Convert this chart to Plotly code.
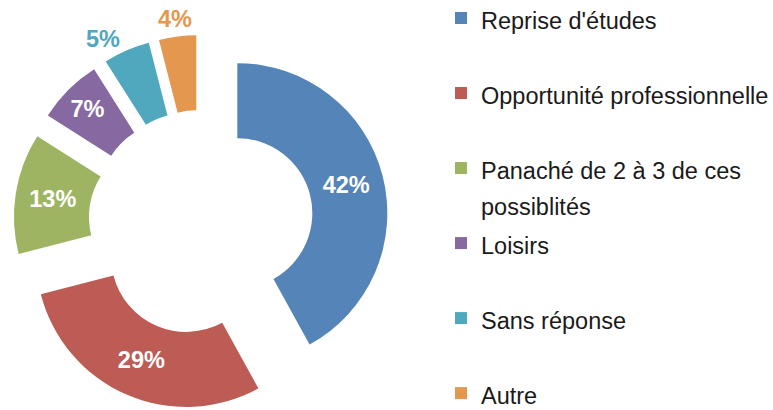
import math
import textwrap
import plotly.graph_objects as go

# Survey answers and their shares (percent)
categories = [
    "Reprise d'études",
    "Opportunité professionnelle",
    "Panaché de 2 à 3 de ces possiblités",
    "Loisirs",
    "Sans réponse",
    "Autre",
]
shares = [42, 29, 13, 7, 5, 4]
colors = ["#5585B8", "#BC5C54", "#9DB562", "#8569A0", "#4FA8BE", "#E3974F"]
# the last slice gets its label placed above its tip separately
label_positions = ["inside", "inside", "inside", "inside", "outside", "none"]

FONT = "Arial, Liberation Sans, sans-serif"
TEXT_PX = 23.5         # visible legend text size
LEGEND_LINE_PX = 27.7  # legend font size that sets the slot line height
VALUE_PX = 23.5        # percentage labels

W, H = 773, 410
cx, cy, half = 201, 222.5, 187.5   # donut centre and half-size of its box (px)
PULL = 0.25
HOLE = 0.5


def legend_entry(name, last):
    lines = textwrap.wrap(name, width=27)
    body = "<br>".join(f"<span style='font-size:{TEXT_PX}px'>{ln}</span>" for ln in lines)
    # single-line entries get a spacer line so every slot has the same height
    if len(lines) == 1 and not last:
        body += "<br> "
    return body


legend_labels = [legend_entry(c, i == len(categories) - 1) for i, c in enumerate(categories)]

fig = go.Figure(
    go.Pie(
        labels=legend_labels,
        values=shares,
        sort=False,
        direction="clockwise",
        rotation=0,
        hole=HOLE,
        pull=PULL,
        marker=dict(colors=colors, line=dict(width=0)),
        texttemplate="%{percent:.0%}",
        textposition=label_positions,
        insidetextorientation="horizontal",
        insidetextfont=dict(family=FONT, size=VALUE_PX, color="white", weight="bold"),
        outsidetextfont=dict(family=FONT, size=VALUE_PX, color=colors, weight="bold"),
        domain=dict(x=[(cx - half) / W, (cx + half) / W], y=[0, (2 * half) / H]),
        hoverinfo="skip",
        showlegend=True,
    )
)

# label of the last slice, centred on its bisector just beyond the pulled-out tip
total = sum(shares)
mid_angle = math.radians(360 * (total - shares[-1] / 2) / total)
radius = half + 17.5
lx = cx + radius * math.sin(mid_angle)
ly = cy - radius * math.cos(mid_angle)
fig.add_annotation(
    x=lx / W,
    y=1 - ly / H,
    xref="paper",
    yref="paper",
    text=f"{round(100 * shares[-1] / total)}%",
    showarrow=False,
    xanchor="center",
    yanchor="middle",
    font=dict(family=FONT, size=VALUE_PX, color=colors[-1], weight="bold"),
)

fig.update_layout(
    width=W,
    height=H,
    margin=dict(l=0, r=0, t=0, b=0, pad=0, autoexpand=False),
    paper_bgcolor="white",
    plot_bgcolor="white",
    font=dict(family=FONT, color="#1a1a1a"),
    legend=dict(
        x=441 / W,
        xanchor="left",
        y=1 + 6.5 / H,
        yanchor="top",
        valign="top",
        font=dict(size=LEGEND_LINE_PX, color="#1a1a1a"),
        bgcolor="rgba(0,0,0,0)",
        borderwidth=0,
        maxheight=460,
        traceorder="normal",
    ),
)

fig.write_html("out.html")
